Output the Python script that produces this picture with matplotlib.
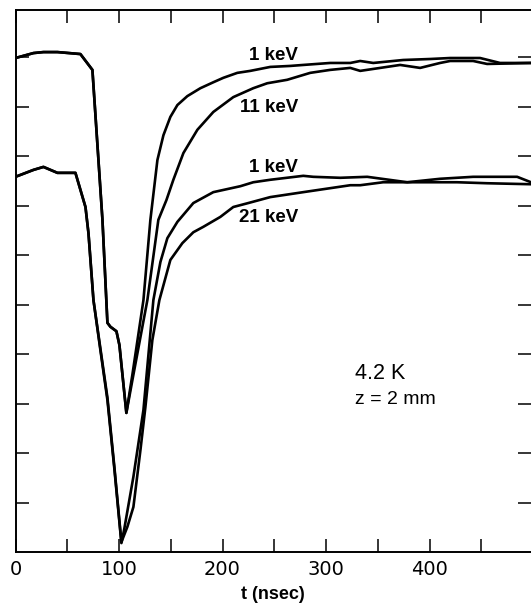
"""Pulse shapes at 4.2 K, z = 2 mm, for several deposited energies"""
import numpy as np
import matplotlib.pyplot as plt
from matplotlib.ticker import MultipleLocator, FuncFormatter

# ---- upper pair: 1 keV vs 11 keV ----
t_up_common = [0, 17.4, 27, 40.5, 62.7, 74.3, 84, 88.8, 91.7, 97.5, 100.4, 107.1]
v_up_common = [9.98, 10.08, 10.1, 10.1, 10.06, 9.74, 6.71, 4.63, 4.55, 4.46, 4.18, 2.81]

t_up_1kev = [112.9, 123.6, 130.3, 137.1, 142.9, 149.6, 156.4, 166, 178.6, 191.1, 200.8,
             214.3, 226.8, 246.1, 265.4, 278, 304, 323.4, 333, 345.6, 374.5, 400.6,
             419.9, 448.8, 468.1, 498]
v_up_1kev = [3.58, 5.09, 6.71, 7.92, 8.42, 8.79, 9.03, 9.21, 9.37, 9.49, 9.58,
             9.68, 9.72, 9.8, 9.82, 9.84, 9.88, 9.88, 9.92, 9.88, 9.94, 9.96,
             9.98, 9.98, 9.88, 9.88]

t_up_11kev = [112.9, 127.4, 138, 145.8, 152.5, 162.2, 175.7, 191.1, 210.4, 229.7, 243.2,
              262.5, 284.7, 304, 323.4, 333, 352.3, 371.6, 390.9, 410.2, 419.9, 442.1,
              455.6, 498]
v_up_11kev = [3.47, 5.09, 6.71, 7.11, 7.52, 8.06, 8.53, 8.89, 9.19, 9.37, 9.47,
              9.54, 9.68, 9.74, 9.78, 9.72, 9.78, 9.84, 9.78, 9.88, 9.92, 9.92,
              9.86, 9.88]

# ---- lower pair: 1 keV vs 21 keV ----
t_lo_common = [0, 17.4, 27, 40.5, 57.9, 67.6, 70.5, 75.3]
v_lo_common = [7.58, 7.72, 7.78, 7.66, 7.66, 6.97, 6.44, 5.09]

t_lo_1kev = [82, 88.8, 95.6, 102.3, 105.2, 113.9, 123.6, 133.2, 140, 146.7, 156.4,
             171.8, 191.1, 217.2, 229.7, 246.1, 278, 287.6, 313.7, 339.8, 378.4,
             410.2, 442.1, 484.6, 498]
v_lo_1kev = [4.08, 3.07, 1.66, 0.18, 0.48, 1.52, 2.87, 5.09, 5.86, 6.34, 6.67,
             7.05, 7.27, 7.39, 7.47, 7.52, 7.6, 7.58, 7.56, 7.58, 7.47,
             7.54, 7.58, 7.58, 7.47]

t_lo_21kev = [79, 88.8, 95.6, 102.3, 108.1, 113.9, 120.7, 125.5, 132.2, 139, 149.6,
              161.2, 171.8, 181.5, 197.9, 210.4, 224.9, 246.1, 278, 323.4, 333,
              355.2, 393.8, 426.6, 455.6, 498]
v_lo_21kev = [4.55, 3.12, 1.7, 0.2, 0.51, 0.91, 2.06, 2.93, 4.28, 5.09, 5.9,
              6.24, 6.46, 6.57, 6.77, 6.97, 7.05, 7.17, 7.27, 7.41, 7.41,
              7.47, 7.47, 7.47, 7.45, 7.43]

curves = [
    (t_up_common + t_up_1kev, v_up_common + v_up_1kev),
    (t_up_common + t_up_11kev, v_up_common + v_up_11kev),
    (t_lo_common + t_lo_1kev, v_lo_common + v_lo_1kev),
    (t_lo_common + t_lo_21kev, v_lo_common + v_lo_21kev),
]
labels = [('1 keV', 273, 10.04), ('11 keV', 273, 8.99),
          ('1 keV', 273, 7.76), ('21 keV', 273, 6.75)]

fig = plt.figure(figsize=(5.31, 6.03), dpi=100)
ax = fig.add_axes([15.5 / 531, 51 / 603, 515.5 / 531, 542 / 603])

for t, v in curves:
    ax.plot(t, v, color='black', lw=1.9, solid_joinstyle='round')

for txt, x, y in labels:
    ax.text(x, y, txt, ha='right', va='center', fontsize=13.5,
            family='Liberation Sans', fontweight='bold')

ax.text(328, 3.6, '4.2 K', ha='left', va='center', fontsize=15.5,
        family='Liberation Sans')
ax.text(328, 3.09, 'z = 2 mm', ha='left', va='center', fontsize=14,
        family='Liberation Sans')

ax.set_xlim(0, 498)
ax.set_ylim(0, 10.95)

ax.xaxis.set_major_locator(MultipleLocator(50))
ax.xaxis.set_major_formatter(FuncFormatter(
    lambda x, pos: f'{int(round(x))}' if round(x) % 100 == 0 else ''))
ax.set_yticks(np.arange(1, 11))
ax.set_yticklabels([])
ax.tick_params(axis='both', direction='in', length=9.5, width=1.1,
               top=True, right=True, pad=6)
ax.tick_params(axis='x', labelsize=14)
for lab in ax.get_xticklabels():
    lab.set_family('DejaVu Sans')

ax.set_xlabel('t (nsec)', fontsize=13, family='Liberation Sans',
              fontweight='bold', labelpad=5)

for side in ['left', 'bottom', 'top']:
    ax.spines[side].set_linewidth(1.4)
ax.spines['right'].set_visible(False)

fig.savefig('out.png', dpi=100)
